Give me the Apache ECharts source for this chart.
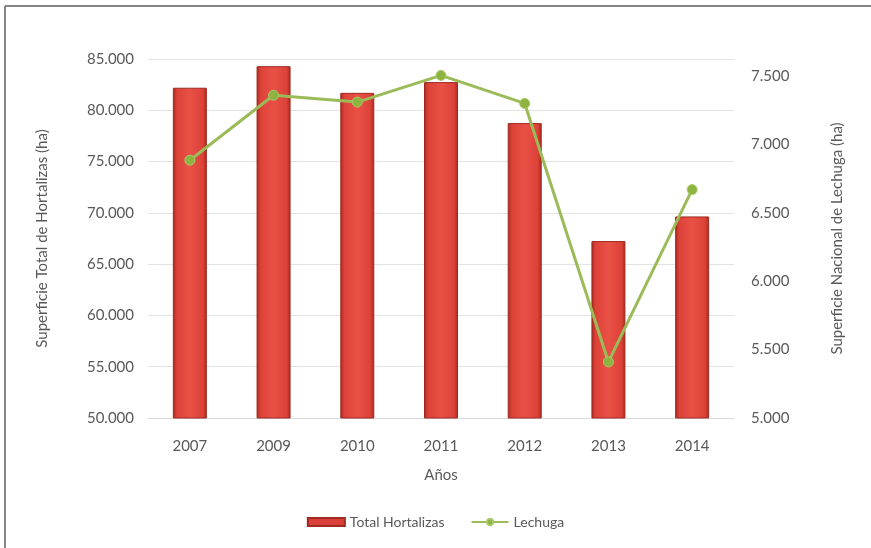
<!DOCTYPE html>
<html>
<head>
<meta charset="utf-8">
<script src="https://cdn.jsdelivr.net/npm/echarts@6/dist/echarts.min.js"></script>
<style>html,body{margin:0;padding:0;background:#fff}#c{width:871px;height:548px}</style>
</head>
<body>
<div id="c"></div>
<script>
const years = ['2007','2009','2010','2011','2012','2013','2014'];
const totalHortalizas = [82200, 84300, 81700, 82750, 78750, 67250, 69650];
const lechuga = [6885, 7360, 7310, 7505, 7300, 5410, 6670];

const fmt = v => String(v).replace(/\B(?=(\d{3})+(?!\d))/g, '.');
const txt = '#595959';
const font = 'Lato';

const chart = echarts.init(document.getElementById('c'));
chart.setOption({
  animation: false,
  textStyle: {fontFamily: font},
  graphic: [
    {type: 'line', shape: {x1: 5, y1: 6, x2: 871, y2: 6}, style: {stroke: '#858585', lineWidth: 2}},
    {type: 'line', shape: {x1: 5, y1: 6, x2: 5, y2: 548}, style: {stroke: '#858585', lineWidth: 2}}
  ],
  grid: {left: 148, right: 137, top: 59, bottom: 130},
  legend: {
    bottom: 14, left: 'center', itemGap: 26,
    textStyle: {color: txt, fontSize: 14, fontFamily: font},
    data: [
      {name: 'Total Hortalizas', icon: 'rect', itemStyle: {color: '#d9403a'}},
      {name: 'Lechuga'}
    ],
    itemWidth: 37, itemHeight: 8
  },
  xAxis: {
    type: 'category', data: years,
    name: 'Años', nameLocation: 'middle', nameGap: 50,
    nameTextStyle: {color: txt, fontSize: 15, fontFamily: font},
    axisLine: {lineStyle: {color: '#d9d9d9'}},
    axisTick: {show: false},
    axisLabel: {color: txt, fontSize: 15, margin: 21, fontFamily: font}
  },
  yAxis: [
    {
      type: 'value', min: 50000, max: 85000, interval: 5000,
      name: 'Superficie Total de Hortalizas (ha)', nameLocation: 'middle', nameGap: 98,
      nameTextStyle: {color: txt, fontSize: 15, fontFamily: font},
      axisLabel: {color: txt, fontSize: 15, margin: 14, formatter: fmt, fontFamily: font},
      axisLine: {show: false}, axisTick: {show: false},
      splitLine: {lineStyle: {color: '#e3e3e3', width: 1}}
    },
    {
      type: 'value', min: 5000, max: 7625, interval: 500,
      name: 'Superficie Nacional de Lechuga (ha)', nameLocation: 'middle', nameGap: 96,
      nameTextStyle: {color: txt, fontSize: 15, fontFamily: font},
      axisLabel: {color: txt, fontSize: 15, margin: 17, formatter: fmt, showMaxLabel: false, fontFamily: font},
      axisLine: {show: false}, axisTick: {show: false},
      splitLine: {show: false}
    }
  ],
  series: [
    {
      name: 'Total Hortalizas', type: 'bar', data: totalHortalizas, barWidth: 34,
      itemStyle: {
        color: new echarts.graphic.LinearGradient(0, 0, 1, 0, [
          {offset: 0, color: '#a8281f'},
          {offset: 0.12, color: '#dc4238'},
          {offset: 0.5, color: '#ea5146'},
          {offset: 0.88, color: '#dc4238'},
          {offset: 1, color: '#a8281f'}
        ]),
        borderColor: '#9e2a22', borderWidth: 1
      }
    },
    {
      name: 'Lechuga', type: 'line', yAxisIndex: 1, data: lechuga,
      lineStyle: {color: '#9bbb59', width: 3},
      symbol: 'circle', symbolSize: 10,
      itemStyle: {color: '#8db340', borderColor: '#a9c96a', borderWidth: 1}
    }
  ]
});
</script>
</body>
</html>
